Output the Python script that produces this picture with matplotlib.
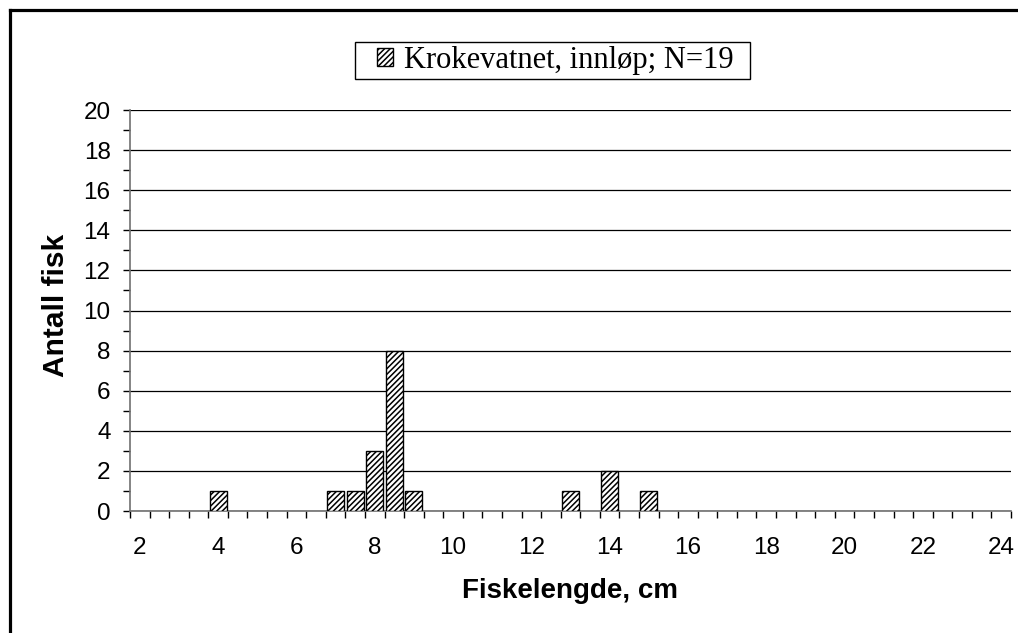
import numpy as np
import matplotlib
matplotlib.use("Agg")
import matplotlib.pyplot as plt
from matplotlib.ticker import MultipleLocator
from matplotlib.lines import Line2D
from matplotlib.patches import Rectangle

# fish length classes (cm) and counts, Krokevatnet inlet
lengths = [4, 7, 7.5, 8, 8.5, 9, 13, 14, 15]
counts = [1, 1, 1, 3, 8, 1, 1, 2, 1]
xticklabels = [2, 4, 6, 8, 10, 12, 14, 16, 18, 20, 22, 24]
yticks = [0, 2, 4, 6, 8, 10, 12, 14, 16, 18, 20]
label = "Krokevatnet, innløp; N=19"

plt.rcParams['font.family'] = ['Liberation Sans', 'DejaVu Sans']
plt.rcParams['hatch.linewidth'] = 1.1

fig = plt.figure(figsize=(10.18, 6.33), dpi=100)
ax = fig.add_axes([130/1018, 1-511/633, (1011-130)/1018, (511-110)/633])

ax.bar(lengths, counts, width=0.5*0.87, color='white', edgecolor='black',
       hatch='//////', linewidth=1.0, label=label, zorder=3)

ax.set_xlim(1.75, 24.25)
ax.set_ylim(0, 20)
ax.set_xticks(xticklabels)
ax.set_xticklabels([str(v) for v in xticklabels])
ax.xaxis.set_minor_locator(MultipleLocator(0.5, offset=0.25))
ax.tick_params(axis='x', which='major', length=0, pad=19, labelsize=17.5)
ax.tick_params(axis='x', which='minor', length=5, width=1, direction='out', color='black')

ax.set_yticks(yticks)
ax.yaxis.set_minor_locator(MultipleLocator(1))
ax.tick_params(axis='y', which='both', length=5, width=1, direction='out', color='black', pad=9, labelsize=17.5)
ax.yaxis.grid(True, which='major', color='black', linewidth=0.9, zorder=0)
ax.set_axisbelow(True)

for s in ['top', 'right']:
    ax.spines[s].set_visible(False)
for s in ['left', 'bottom']:
    ax.spines[s].set_color('#707070')
    ax.spines[s].set_linewidth(1.2)

fig.text(570/1018, 1-591/633, "Fiskelengde, cm", ha='center', va='center',
         fontsize=20, fontweight='bold')
fig.text(56/1018, 1-305/633, "Antall fisk", ha='center', va='center',
         fontsize=21.5, fontweight='bold', rotation=90)

# legend box drawn separately so its padding matches
fig.add_artist(Rectangle((355/1018, 1-79/633), 395/1018, 37/633, transform=fig.transFigure,
                         fill=False, edgecolor='black', linewidth=1.0))
leg = ax.legend(loc='center', bbox_to_anchor=(555.5/1018, 1-60.5/633),
                bbox_transform=fig.transFigure, prop={'family': 'Liberation Serif', 'size': 22},
                frameon=False, handlelength=0.5, handleheight=0.5,
                handletextpad=0.37, borderpad=0, borderaxespad=0)

# outer chart border (top and left visible)
fig.add_artist(Line2D([9.5/1018, 1.0], [1-9.5/633, 1-9.5/633], transform=fig.transFigure,
                      color='black', linewidth=2.3))
fig.add_artist(Line2D([9.5/1018, 9.5/1018], [0.0, 1-9.5/633], transform=fig.transFigure,
                      color='black', linewidth=2.3))

fig.savefig("out.png", dpi=100)
